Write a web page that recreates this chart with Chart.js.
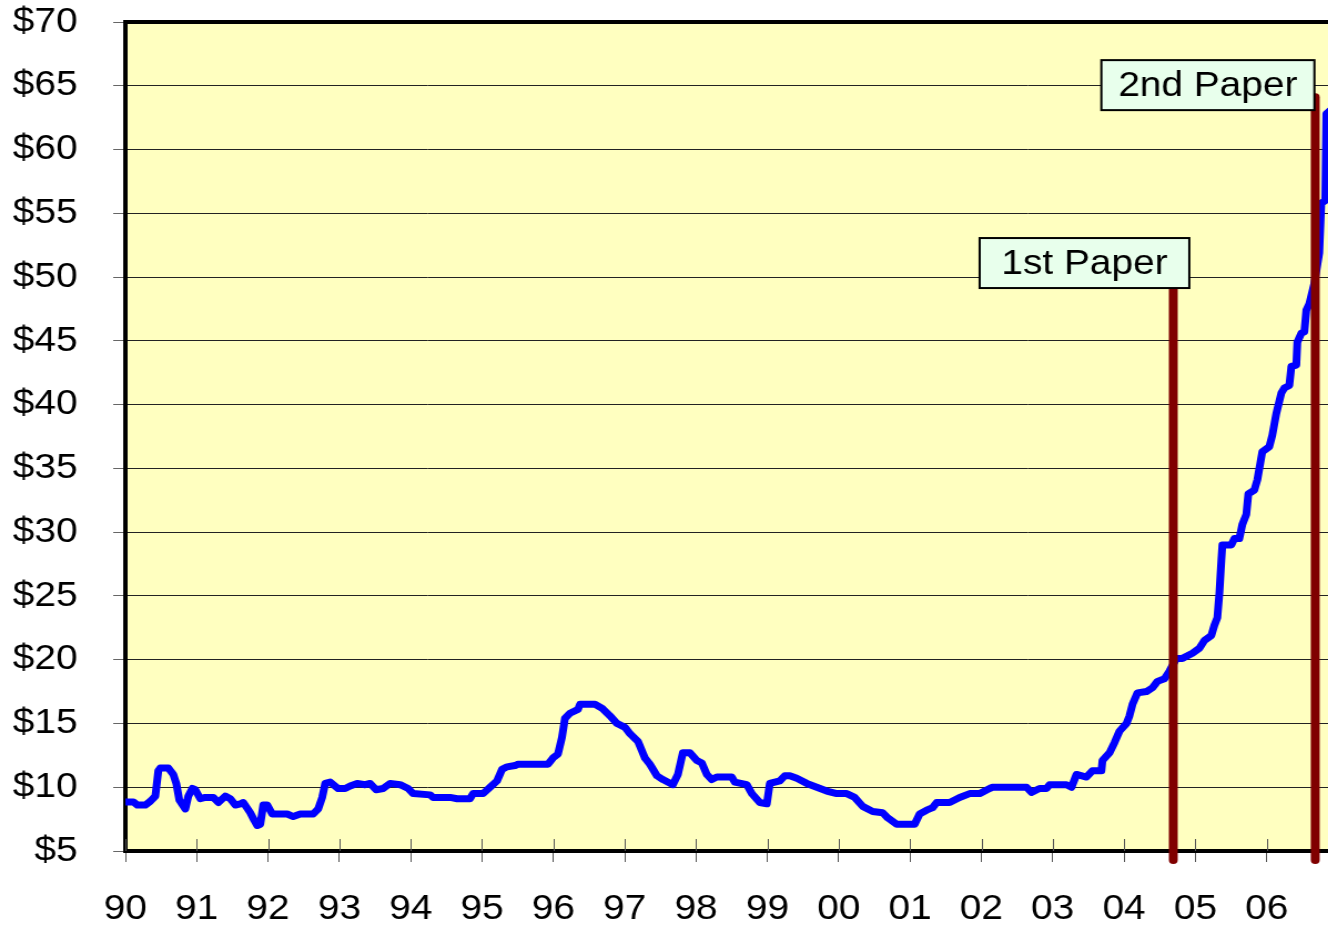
<!DOCTYPE html>
<html>
<head>
<meta charset="utf-8">
<title>Price history</title>
<script src="https://cdn.jsdelivr.net/npm/chart.js@4.4.1/dist/chart.umd.min.js"></script>
<style>
  body { margin: 0; background: #fff; overflow: hidden; }
  /* the original slide is stretched sideways, so the canvas is too */
  #wrap { width: 1197px; height: 931px; transform: scaleX(1.1095); transform-origin: 0 0; }
</style>
</head>
<body>
<div id="wrap"><canvas id="priceChart" width="1197" height="931"></canvas></div>
<script>
// price readings (year as decimal, dollars)
const dates = [
  1990.000, 1990.112, 1990.168, 1990.280, 1990.350, 1990.420, 1990.462, 1990.490, 1990.602, 1990.672,
  1990.714, 1990.756, 1990.840, 1990.882, 1990.938, 1990.980, 1991.050, 1991.120, 1991.232, 1991.303,
  1991.401, 1991.471, 1991.541, 1991.611, 1991.653, 1991.751, 1991.807, 1991.849, 1991.891, 1991.933,
  1991.989, 1992.059, 1992.269, 1992.353, 1992.451, 1992.633, 1992.703, 1992.759, 1992.801, 1992.871,
  1992.983, 1993.081, 1993.151, 1993.249, 1993.361, 1993.431, 1993.515, 1993.613, 1993.711, 1993.852,
  1993.964, 1994.034, 1994.272, 1994.314, 1994.552, 1994.650, 1994.832, 1994.874, 1995.014, 1995.112,
  1995.210, 1995.280, 1995.350, 1995.462, 1995.504, 1995.924, 1995.994, 1996.064, 1996.120, 1996.162,
  1996.232, 1996.345, 1996.373, 1996.583, 1996.681, 1996.793, 1996.891, 1997.003, 1997.073, 1997.185,
  1997.283, 1997.353, 1997.451, 1997.535, 1997.675, 1997.745, 1997.815, 1997.913, 1998.011, 1998.081,
  1998.151, 1998.221, 1998.291, 1998.501, 1998.543, 1998.711, 1998.782, 1998.894, 1998.992, 1999.034,
  1999.174, 1999.244, 1999.314, 1999.412, 1999.552, 1999.692, 1999.832, 1999.972, 2000.112, 2000.224,
  2000.336, 2000.476, 2000.616, 2000.686, 2000.812, 2001.064, 2001.134, 2001.232, 2001.317, 2001.373,
  2001.555, 2001.695, 2001.835, 2001.975, 2002.115, 2002.157, 2002.633, 2002.703, 2002.815, 2002.913,
  2002.955, 2003.193, 2003.263, 2003.333, 2003.473, 2003.557, 2003.683, 2003.697, 2003.796, 2003.866,
  2003.936, 2004.034, 2004.076, 2004.118, 2004.188, 2004.314, 2004.398, 2004.468, 2004.566, 2004.636,
  2004.734, 2004.818, 2004.958, 2005.056, 2005.126, 2005.224, 2005.266, 2005.308, 2005.336, 2005.364,
  2005.378, 2005.504, 2005.546, 2005.616, 2005.658, 2005.714, 2005.742, 2005.826, 2005.868, 2005.938,
  2006.036, 2006.078, 2006.134, 2006.204, 2006.246, 2006.317, 2006.345, 2006.415, 2006.429, 2006.485,
  2006.527, 2006.555, 2006.597, 2006.667, 2006.737, 2006.765, 2006.821, 2006.835, 2006.877
];
const prices = [
  8.85, 8.85, 8.6, 8.6, 8.9, 9.3, 11.3, 11.5, 11.5, 11.0,
  10.3, 9.0, 8.3, 9.3, 9.9, 9.8, 9.1, 9.2, 9.2, 8.8,
  9.3, 9.1, 8.6, 8.7, 8.8, 8.0, 7.4, 7.0, 7.1, 8.6,
  8.6, 7.9, 7.9, 7.7, 7.9, 7.9, 8.3, 9.2, 10.3, 10.4,
  9.9, 9.9, 10.1, 10.3, 10.2, 10.3, 9.8, 9.9, 10.3, 10.2,
  9.9, 9.5, 9.4, 9.2, 9.2, 9.1, 9.1, 9.5, 9.5, 10.0,
  10.5, 11.4, 11.6, 11.7, 11.8, 11.8, 12.3, 12.6, 13.9, 15.4,
  15.8, 16.1, 16.5, 16.5, 16.2, 15.6, 15.0, 14.7, 14.2, 13.6,
  12.3, 11.8, 10.9, 10.6, 10.2, 11.0, 12.7, 12.7, 12.1, 11.9,
  11.0, 10.6, 10.8, 10.8, 10.4, 10.2, 9.5, 8.8, 8.7, 10.3,
  10.5, 10.9, 10.9, 10.7, 10.3, 10.0, 9.7, 9.5, 9.5, 9.2,
  8.5, 8.1, 8.0, 7.6, 7.1, 7.1, 7.9, 8.2, 8.4, 8.8,
  8.8, 9.2, 9.5, 9.5, 9.9, 10.0, 10.0, 9.6, 9.9, 9.9,
  10.2, 10.2, 10.0, 11.0, 10.8, 11.3, 11.3, 12.1, 12.7, 13.5,
  14.4, 15.0, 15.6, 16.5, 17.4, 17.5, 17.8, 18.3, 18.5, 19.1,
  20.1, 20.1, 20.5, 20.9, 21.5, 21.9, 22.7, 23.3, 25.2, 27.8,
  29.0, 29.0, 29.5, 29.5, 30.6, 31.4, 33.0, 33.3, 34.1, 36.3,
  36.7, 37.6, 39.3, 40.9, 41.3, 41.5, 43.0, 43.1, 44.9, 45.6,
  45.7, 47.4, 47.9, 49.5, 51.9, 55.8, 56.0, 62.8, 63.0
];

// axis range and ticks
const firstYear = 1990;
const lastYear = 2006.86;
const minPrice = 5;
const maxPrice = 70;
const priceStep = 5;

// the two papers marked on the chart
const eventLabels = ["1st Paper", "2nd Paper"];
const eventDates = [2004.69, 2006.68];
const eventTops = [49.3, 64.1];

const labelFont = "35px 'Liberation Sans', Arial, sans-serif";

// paints the plot background, the top border, inner tick marks and the paper markers
const paperPlugin = {
  id: "papers",
  beforeDraw(chart) {
    const { ctx, chartArea: a } = chart;
    ctx.save();
    ctx.fillStyle = "#ffffc0";
    ctx.fillRect(a.left, a.top, a.right - a.left, a.bottom - a.top);
    ctx.restore();
  },
  beforeDatasetsDraw(chart) {
    const { ctx, chartArea: a, scales } = chart;
    ctx.save();
    ctx.strokeStyle = "#555";
    ctx.lineWidth = 1;
    scales.x.ticks.forEach((t) => {
      const px = Math.round(scales.x.getPixelForValue(t.value)) + 0.5;
      ctx.beginPath();
      ctx.moveTo(px, a.bottom - 12);
      ctx.lineTo(px, a.bottom);
      ctx.stroke();
    });
    ctx.restore();
  },
  afterDatasetsDraw(chart, args, opts) {
    const { ctx, chartArea: a, scales } = chart;
    ctx.save();
    // top border
    ctx.strokeStyle = "#000";
    ctx.lineWidth = 4;
    ctx.beginPath();
    ctx.moveTo(a.left - 2, a.top);
    ctx.lineTo(a.right, a.top);
    ctx.stroke();

    // vertical markers
    ctx.strokeStyle = "#800000";
    ctx.lineWidth = 8;
    ctx.lineCap = "round";
    eventDates.forEach((d, i) => {
      const px = scales.x.getPixelForValue(d);
      ctx.beginPath();
      ctx.moveTo(px, scales.y.getPixelForValue(eventTops[i]));
      ctx.lineTo(px, a.bottom + 9);
      ctx.stroke();
    });

    // label boxes
    ctx.font = labelFont;
    ctx.textAlign = "center";
    ctx.textBaseline = "middle";
    ctx.lineCap = "butt";
    opts.boxes.forEach((b, i) => {
      const cx = scales.x.getPixelForValue(b.date);
      const cy = scales.y.getPixelForValue(b.price);
      const w = b.width;
      const h = 50;
      ctx.fillStyle = "#e8ffec";
      ctx.fillRect(cx - w / 2, cy - h / 2, w, h);
      ctx.strokeStyle = "#000";
      ctx.lineWidth = 2;
      ctx.strokeRect(cx - w / 2, cy - h / 2, w, h);
      ctx.fillStyle = "#000";
      ctx.fillText(eventLabels[i], cx, cy + 1);
    });
    ctx.restore();
  },
};

const points = dates.map((d, i) => ({ x: d, y: prices[i] }));

new Chart(document.getElementById("priceChart"), {
  type: "line",
  data: {
    datasets: [
      {
        label: "Price",
        data: points,
        borderColor: "#0000ff",
        borderWidth: 7,
        borderJoinStyle: "round",
        borderCapStyle: "round",
        pointRadius: 0,
        tension: 0,
        fill: false,
      },
    ],
  },
  options: {
    responsive: false,
    animation: false,
    layout: { padding: { top: 22, right: 0, bottom: 0, left: 0 } },
    plugins: {
      legend: { display: false },
      tooltip: { enabled: false },
      papers: {
        boxes: [
          { date: 2003.445, price: 51.1, width: 189 },
          { date: 2005.175, price: 65.05, width: 192 },
        ],
      },
    },
    scales: {
      x: {
        type: "linear",
        min: firstYear,
        max: lastYear,
        afterFit: (scale) => {
          scale.height = 80;
          scale.paddingLeft = 0;
          scale.paddingRight = 0;
        },
        ticks: {
          stepSize: 1,
          includeBounds: false,
          autoSkip: false,
          maxRotation: 0,
          padding: 26,
          color: "#000",
          font: { family: "'Liberation Sans', Arial, sans-serif", size: 35 },
          callback: (v) => String(Math.round(v) % 100).padStart(2, "0"),
        },
        grid: { drawOnChartArea: false, drawTicks: true, tickLength: 11, color: "#555" },
        border: { display: true, color: "#000", width: 4 },
      },
      y: {
        min: minPrice,
        max: maxPrice,
        afterFit: (scale) => {
          scale.width = 113;
          scale.paddingTop = 0;
          scale.paddingBottom = 0;
        },
        ticks: {
          stepSize: priceStep,
          padding: 32,
          color: "#000",
          font: { family: "'Liberation Sans', Arial, sans-serif", size: 35 },
          callback: (v) => "$" + v,
        },
        grid: { color: "#222", lineWidth: 1, tickLength: 11, tickColor: "#666" },
        border: { display: true, color: "#000", width: 4 },
      },
    },
  },
  plugins: [paperPlugin],
});
</script>
</body>
</html>
